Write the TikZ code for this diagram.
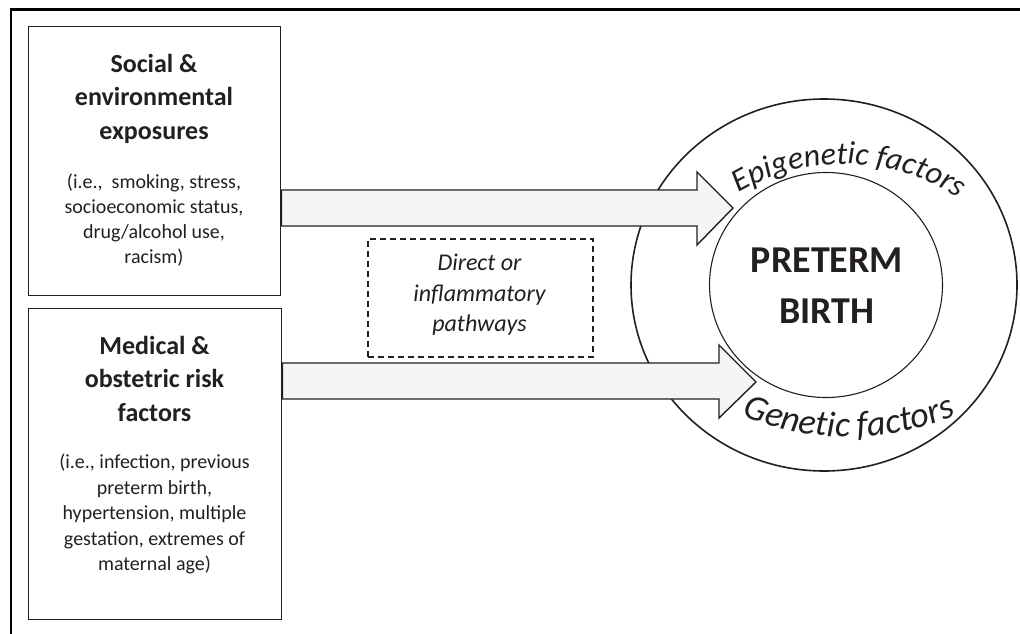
\documentclass[tikz,border=0pt]{standalone}
\usepackage{fontspec}
\setmainfont{Carlito}
\usetikzlibrary{decorations.text,shapes.geometric}
\definecolor{ink}{HTML}{231F20}
\begin{document}
\begin{tikzpicture}[x=1pt,y=-1pt,
  frame/.style={line width=2.2pt,draw=black},
  factorbox/.style={draw=ink,line width=1.4pt,inner sep=0pt,anchor=north west},
  blockarrow/.style={draw=ink,line width=1.4pt,fill=black!4,line join=miter},
  headline/.style={font=\bfseries\fontsize{26}{33}\selectfont,anchor=base,text=ink,inner sep=0pt},
  smallline/.style={font=\fontsize{20}{25}\selectfont,anchor=base,text=ink,inner sep=0pt},
  pathline/.style={font=\itshape\fontsize{24}{30}\selectfont,anchor=base,text=ink,inner sep=0pt},
  dashbox/.style={draw=ink,line width=1.5pt,dash pattern=on 6pt off 4pt,inner sep=0pt,anchor=north west},
  ring/.style={draw=ink,ellipse,inner sep=0pt},
]
\useasboundingbox (0,0) rectangle (1020,634);
\draw[frame] (11,9.5) rectangle (1045,660);

% boxes
\node[factorbox,minimum width=252pt,minimum height=269pt] (social) at (28,26) {};
\node[factorbox,minimum width=253pt,minimum height=311pt] (medical) at (28,308) {};

\node[headline] (s1) at (154,73) {Social \&};
\node[headline] (s2) at (154,106) {environmental};
\node[headline] (s3) at (154,139) {exposures};
\node[smallline] (s4) at (154,188) {(i.e.,\ \ smoking, stress,};
\node[smallline] (s5) at (154,213) {socioeconomic status,};
\node[smallline] (s6) at (154,238) {drug/alcohol use,};
\node[smallline] (s7) at (154,263) {racism)};

\node[headline] (m1) at (154.5,354) {Medical \&};
\node[headline] (m2) at (154.5,387) {obstetric risk};
\node[headline] (m3) at (154.5,421) {factors};
\node[smallline] (m4) at (154.5,468) {(i.e., infection, previous};
\node[smallline] (m5) at (154.5,494) {preterm birth,};
\node[smallline] (m6) at (154.5,519) {hypertension, multiple};
\node[smallline] (m7) at (154.5,545) {gestation, extremes of};
\node[smallline] (m8) at (154.5,570) {maternal age)};

% dashed pathway box
\node[dashbox,minimum width=225pt,minimum height=118pt] (pathbox) at (367,238) {};
\node[pathline] (p1) at (479.5,270) {Direct or};
\node[pathline] (p2) at (479.5,301) {inflammatory};
\node[pathline] (p3) at (479.5,331) {pathways};

% rings
\node[ring,line width=1.6pt,minimum width=386pt,minimum height=372pt] (outer) at (824,285) {};
\node[ring,line width=1.1pt,minimum width=233pt,minimum height=225pt] (inner) at (826,285) {};
\node[font=\bfseries\fontsize{38}{51}\selectfont,align=center,text=ink,inner sep=0pt] (pb) at (827,285.5) {PRETERM\\BIRTH};

\coordinate (epic) at (844,371);
\coordinate (genc) at (849,168);
\path[decorate,decoration={text along path,text align=center,
  text={|\itshape\fontsize{32}{34}\selectfont\color{ink}|Epigenetic factors}}]
  (epic) ++(150:207pt) arc[start angle=150,end angle=27,radius=207pt];
\path[decorate,decoration={text along path,text align=center,
  text={|\itshape\fontsize{36}{38}\selectfont\color{ink}|Genetic factors}}]
  (genc) ++(225:269pt) arc[start angle=225,end angle=315,radius=269pt];

% block arrows
\draw[blockarrow] (social.east |- 0,190) -- (697,190) -- (697,172) -- (733,208) -- (697,245) -- (697,226) -- (social.east |- 0,226) -- cycle;
\draw[blockarrow] (medical.east |- 0,363) -- (719,363) -- (719,345) -- (756,382) -- (719,418) -- (719,399) -- (medical.east |- 0,399) -- cycle;
\end{tikzpicture}
\end{document}
